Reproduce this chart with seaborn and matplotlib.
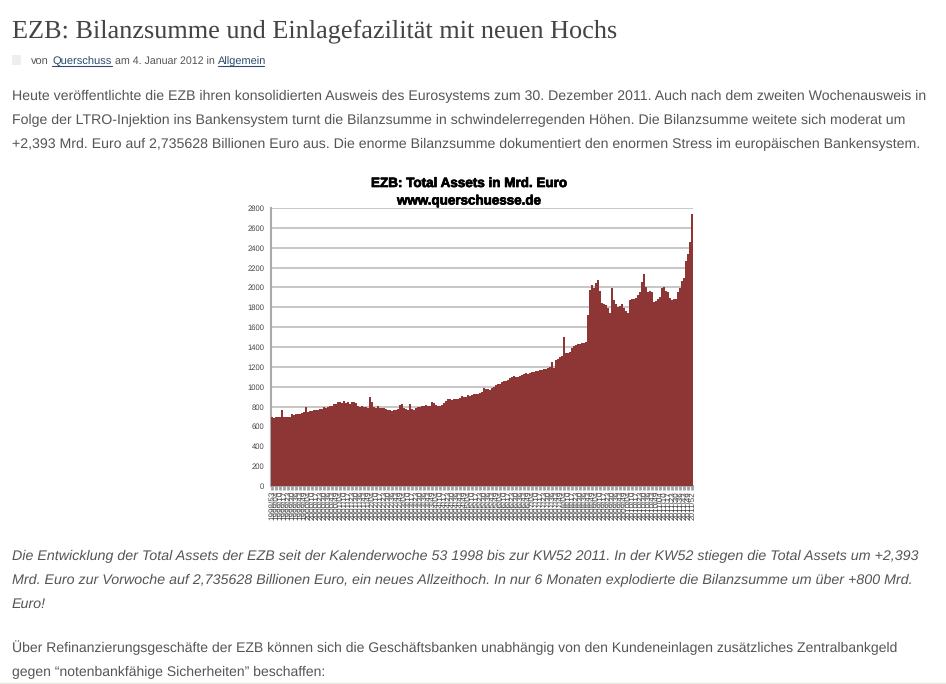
import matplotlib
matplotlib.use("Agg")
import matplotlib.pyplot as plt
import matplotlib.patheffects as pe
from matplotlib.lines import Line2D
from matplotlib.patches import Rectangle
import seaborn as sns

# total assets in Mrd. Euro
assets = [
    690, 685, 690, 695, 695, 770, 700, 695, 700, 700,
    725, 720, 730, 725, 730, 735, 745, 800, 750, 755,
    760, 765, 770, 770, 780, 775, 795, 790, 800, 810,
    810, 825, 830, 850, 845, 840, 855, 835, 850, 830,
    850, 845, 835, 810, 800, 805, 795, 795, 790, 900,
    850, 800, 790, 805, 785, 790, 785, 780, 770, 765,
    755, 765, 770, 780, 815, 825, 785, 775, 770, 830,
    780, 770, 790, 800, 800, 805, 810, 815, 805, 810,
    850, 835, 815, 810, 805, 820, 835, 855, 880, 875,
    870, 880, 875, 880, 885, 905, 895, 900, 915, 905,
    915, 925, 925, 930, 935, 950, 985, 980, 975, 970,
    985, 1000, 1020, 1030, 1025, 1045, 1060, 1055, 1070, 1085,
    1095, 1110, 1100, 1095, 1105, 1115, 1130, 1135, 1125, 1140,
    1145, 1150, 1155, 1160, 1165, 1170, 1180, 1175, 1190, 1195,
    1245, 1190, 1265, 1280, 1300, 1310, 1500, 1340, 1335, 1350,
    1390, 1410, 1425, 1435, 1430, 1445, 1440, 1450, 1720, 1970,
    2020, 1990, 2040, 2070, 1960, 1840, 1830, 1820, 1790, 1740,
    1990, 1870, 1830, 1800, 1810, 1835, 1790, 1760, 1740, 1870,
    1880, 1885, 1890, 1920, 1950, 2055, 2140, 2005, 1955, 1960,
    1950, 1850, 1865, 1880, 1900, 1990, 2005, 1960, 1950, 1890,
    1870, 1880, 1885, 1955, 1990, 2060, 2090, 2270, 2340, 2455,
    2735,
]
years = list(range(1999, 2012))
weeks = [1, 4, 7, 10, 14, 17, 20, 23, 27, 30, 33, 36, 40, 43, 46, 49]
week_labels = ["1998/53"] + [f"{y}/{w:02d}" for y in years for w in weeks] + ["2011/50", "2011/52"]
y_ticks = list(range(0, 2801, 200))

W, H = 946, 684
BAR = "#8e3636"
GREY = "#555555"
LINK = "#2a4a6e"

sns.set_style("white")
plt.rcParams["font.family"] = ["Liberation Sans", "DejaVu Sans"]
plt.rcParams["text.hinting"] = "no_hinting"

fig = plt.figure(figsize=(W / 100, H / 100), dpi=100)
ax = fig.add_axes([271 / W, (H - 486) / H, 422 / W, 278 / H])

sns.barplot(x=week_labels, y=assets, color=BAR, saturation=1, width=1, linewidth=0, ax=ax, zorder=3)
ax.set_xlim(-0.5, len(assets) - 0.5)
ax.set_ylim(0, 2800)
ax.set_yticks(y_ticks)
ax.tick_params(axis="y", length=0, labelsize=5.5, labelcolor="#444444", pad=5)
ax.set_xticks(range(0, len(assets), 2))
ax.set_xticklabels(week_labels[::2], rotation=90, fontsize=5.9, color="#444444")
ax.tick_params(axis="x", bottom=True, length=3, width=2, color="#a0a0a0", pad=0.5)
ax.grid(axis="y", color="#b8b8b8", linewidth=1.1, zorder=0)
ax.set_axisbelow(True)
for side in ["top", "right"]:
    ax.spines[side].set_visible(False)
for side in ["left", "bottom"]:
    ax.spines[side].set_color("#aaaaaa")
    ax.spines[side].set_linewidth(1.5)


def put(x, y, s, **kw):
    kw.setdefault("color", GREY)
    kw.setdefault("va", "baseline")
    return fig.text(x / W, 1 - y / H, s, **kw)


# chart heading, the original uses a much heavier face
heavy = [pe.withStroke(linewidth=0.5, foreground="black")]
put(371, 187, "EZB: Total Assets in Mrd. Euro", fontsize=9.7, fontweight="bold", color="black",
    path_effects=heavy)
put(397, 204.5, "www.querschuesse.de", fontsize=9.65, fontweight="bold", color="black",
    path_effects=heavy)

# blog post around the chart
put(12, 37.5, "EZB: Bilanzsumme und Einlagefazilität mit neuen Hochs", fontsize=18.9,
    family="Liberation Serif", color="#444444")
fig.add_artist(Rectangle((12 / W, 1 - 65 / H), 9 / W, 10 / H, transform=fig.transFigure,
                         facecolor="#eeeeee", edgecolor="none"))
put(31, 65, "von", fontsize=7.92)
put(52, 65, "Querschuss", fontsize=8, color=LINK)
put(115, 65, "am 4. Januar 2012 in", fontsize=7.7)
put(218, 65, "Allgemein", fontsize=7.92, color=LINK)
for x0, x1 in [(52, 112), (218, 264)]:
    fig.add_artist(Line2D([x0 / W, x1 / W], [1 - 66 / H] * 2, transform=fig.transFigure,
                          color=LINK, linewidth=0.8))

intro = [
    (100, "Heute veröffentlichte die EZB ihren konsolidierten Ausweis des Eurosystems zum 30. Dezember 2011. Auch nach dem zweiten Wochenausweis in"),
    (124, "Folge der LTRO-Injektion ins Bankensystem turnt die Bilanzsumme in schwindelerregenden Höhen. Die Bilanzsumme weitete sich moderat um"),
    (148, "+2,393 Mrd. Euro auf 2,735628 Billionen Euro aus. Die enorme Bilanzsumme dokumentiert den enormen Stress im europäischen Bankensystem."),
]
for y, line in intro:
    put(12, y, line, fontsize=10.19)

outro = [
    (652, "Über Refinanzierungsgeschäfte der EZB können sich die Geschäftsbanken unabhängig von den Kundeneinlagen zusätzliches Zentralbankgeld"),
    (676, "gegen “notenbankfähige Sicherheiten” beschaffen:"),
]
for y, line in outro:
    put(12, y, line, fontsize=10.12)

caption = [
    (560, "Die Entwicklung der Total Assets der EZB seit der Kalenderwoche 53 1998 bis zur KW52 2011. In der KW52 stiegen die Total Assets um +2,393"),
    (584, "Mrd. Euro zur Vorwoche auf 2,735628 Billionen Euro, ein neues Allzeithoch. In nur 6 Monaten explodierte die Bilanzsumme um über +800 Mrd."),
    (608, "Euro!"),
]
for y, line in caption:
    put(12, y, line, fontsize=10.25, style="italic")

fig.add_artist(Line2D([0, 1], [1 - 682.5 / H] * 2, transform=fig.transFigure, color="#e8e8e2", linewidth=1))

fig.savefig("out.png", dpi=100, facecolor="white")
